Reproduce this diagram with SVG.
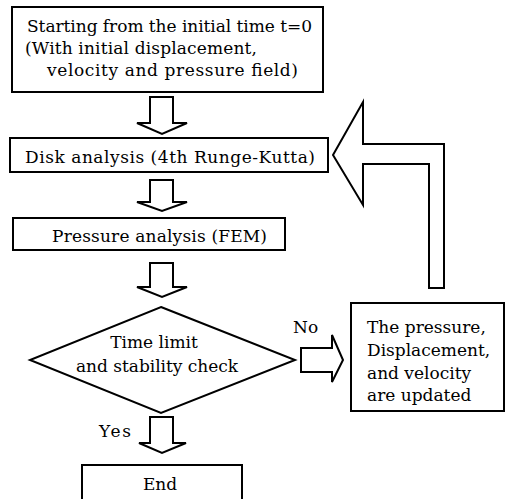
<svg xmlns="http://www.w3.org/2000/svg" width="510" height="499" viewBox="0 0 510 499">
<style>
.box{fill:#fff;stroke:#000;stroke-width:2}
.arr{fill:#fff;stroke:#000;stroke-width:2;stroke-linejoin:miter}
text{font-family:"DejaVu Serif","Liberation Serif",serif;font-size:17px;fill:#000}
</style>
<rect width="510" height="499" fill="#fff"/>
<g id="connectors">
<polygon class="arr" points="150,97 173,97 173,123 187,123 162,134 137,123 150,123"/>
<polygon class="arr" points="150,180 173,180 173,202 187,202 162,211 137,202 150,202"/>
<polygon class="arr" points="150,263 173,263 173,287 187,287 162,297 137,287 150,287"/>
<polygon class="arr" points="150,417 173,417 173,443 186,443 162,453 139,443 150,443"/>
<polygon class="arr" points="301,348 332,348 332,335 343,360 332,382 332,372 301,372"/>
<polygon class="arr" points="333,155 363,102 363,144 444,144 444,288 429,288 429,164 363,164 363,205"/>
<text x="293" y="333">No</text>
<text x="99" y="437" textLength="32" lengthAdjust="spacing">Yes</text>
</g>
<g id="start">
<rect class="box" x="12" y="7" width="311" height="85"/>
<text x="27" y="32" textLength="285" lengthAdjust="spacing">Starting from the initial time t=0</text>
<text x="25" y="54" textLength="232" lengthAdjust="spacing">(With initial displacement,</text>
<text x="47" y="76" textLength="251" lengthAdjust="spacing">velocity and pressure field)</text>
</g>
<g id="disk">
<rect class="box" x="10" y="138" width="318" height="34"/>
<text x="25" y="163" textLength="290" lengthAdjust="spacing">Disk analysis (4th Runge-Kutta)</text>
</g>
<g id="pressure">
<rect class="box" x="13" y="218" width="272" height="32"/>
<text x="52" y="242" textLength="215" lengthAdjust="spacing">Pressure analysis (FEM)</text>
</g>
<g id="check">
<polygon class="box" points="161,307 295,360 161,413 30,360"/>
<text x="154" y="348" text-anchor="middle">Time limit</text>
<text x="76" y="372" textLength="162" lengthAdjust="spacing">and stability check</text>
</g>
<g id="update">
<rect class="box" x="351" y="303" width="153" height="108"/>
<text x="367" y="333">The pressure,</text>
<text x="367" y="356">Displacement,</text>
<text x="367" y="379">and velocity</text>
<text x="367" y="401">are updated</text>
</g>
<g id="end">
<rect class="box" x="82" y="465" width="160" height="40"/>
<text x="160" y="490" text-anchor="middle">End</text>
</g>
</svg>
